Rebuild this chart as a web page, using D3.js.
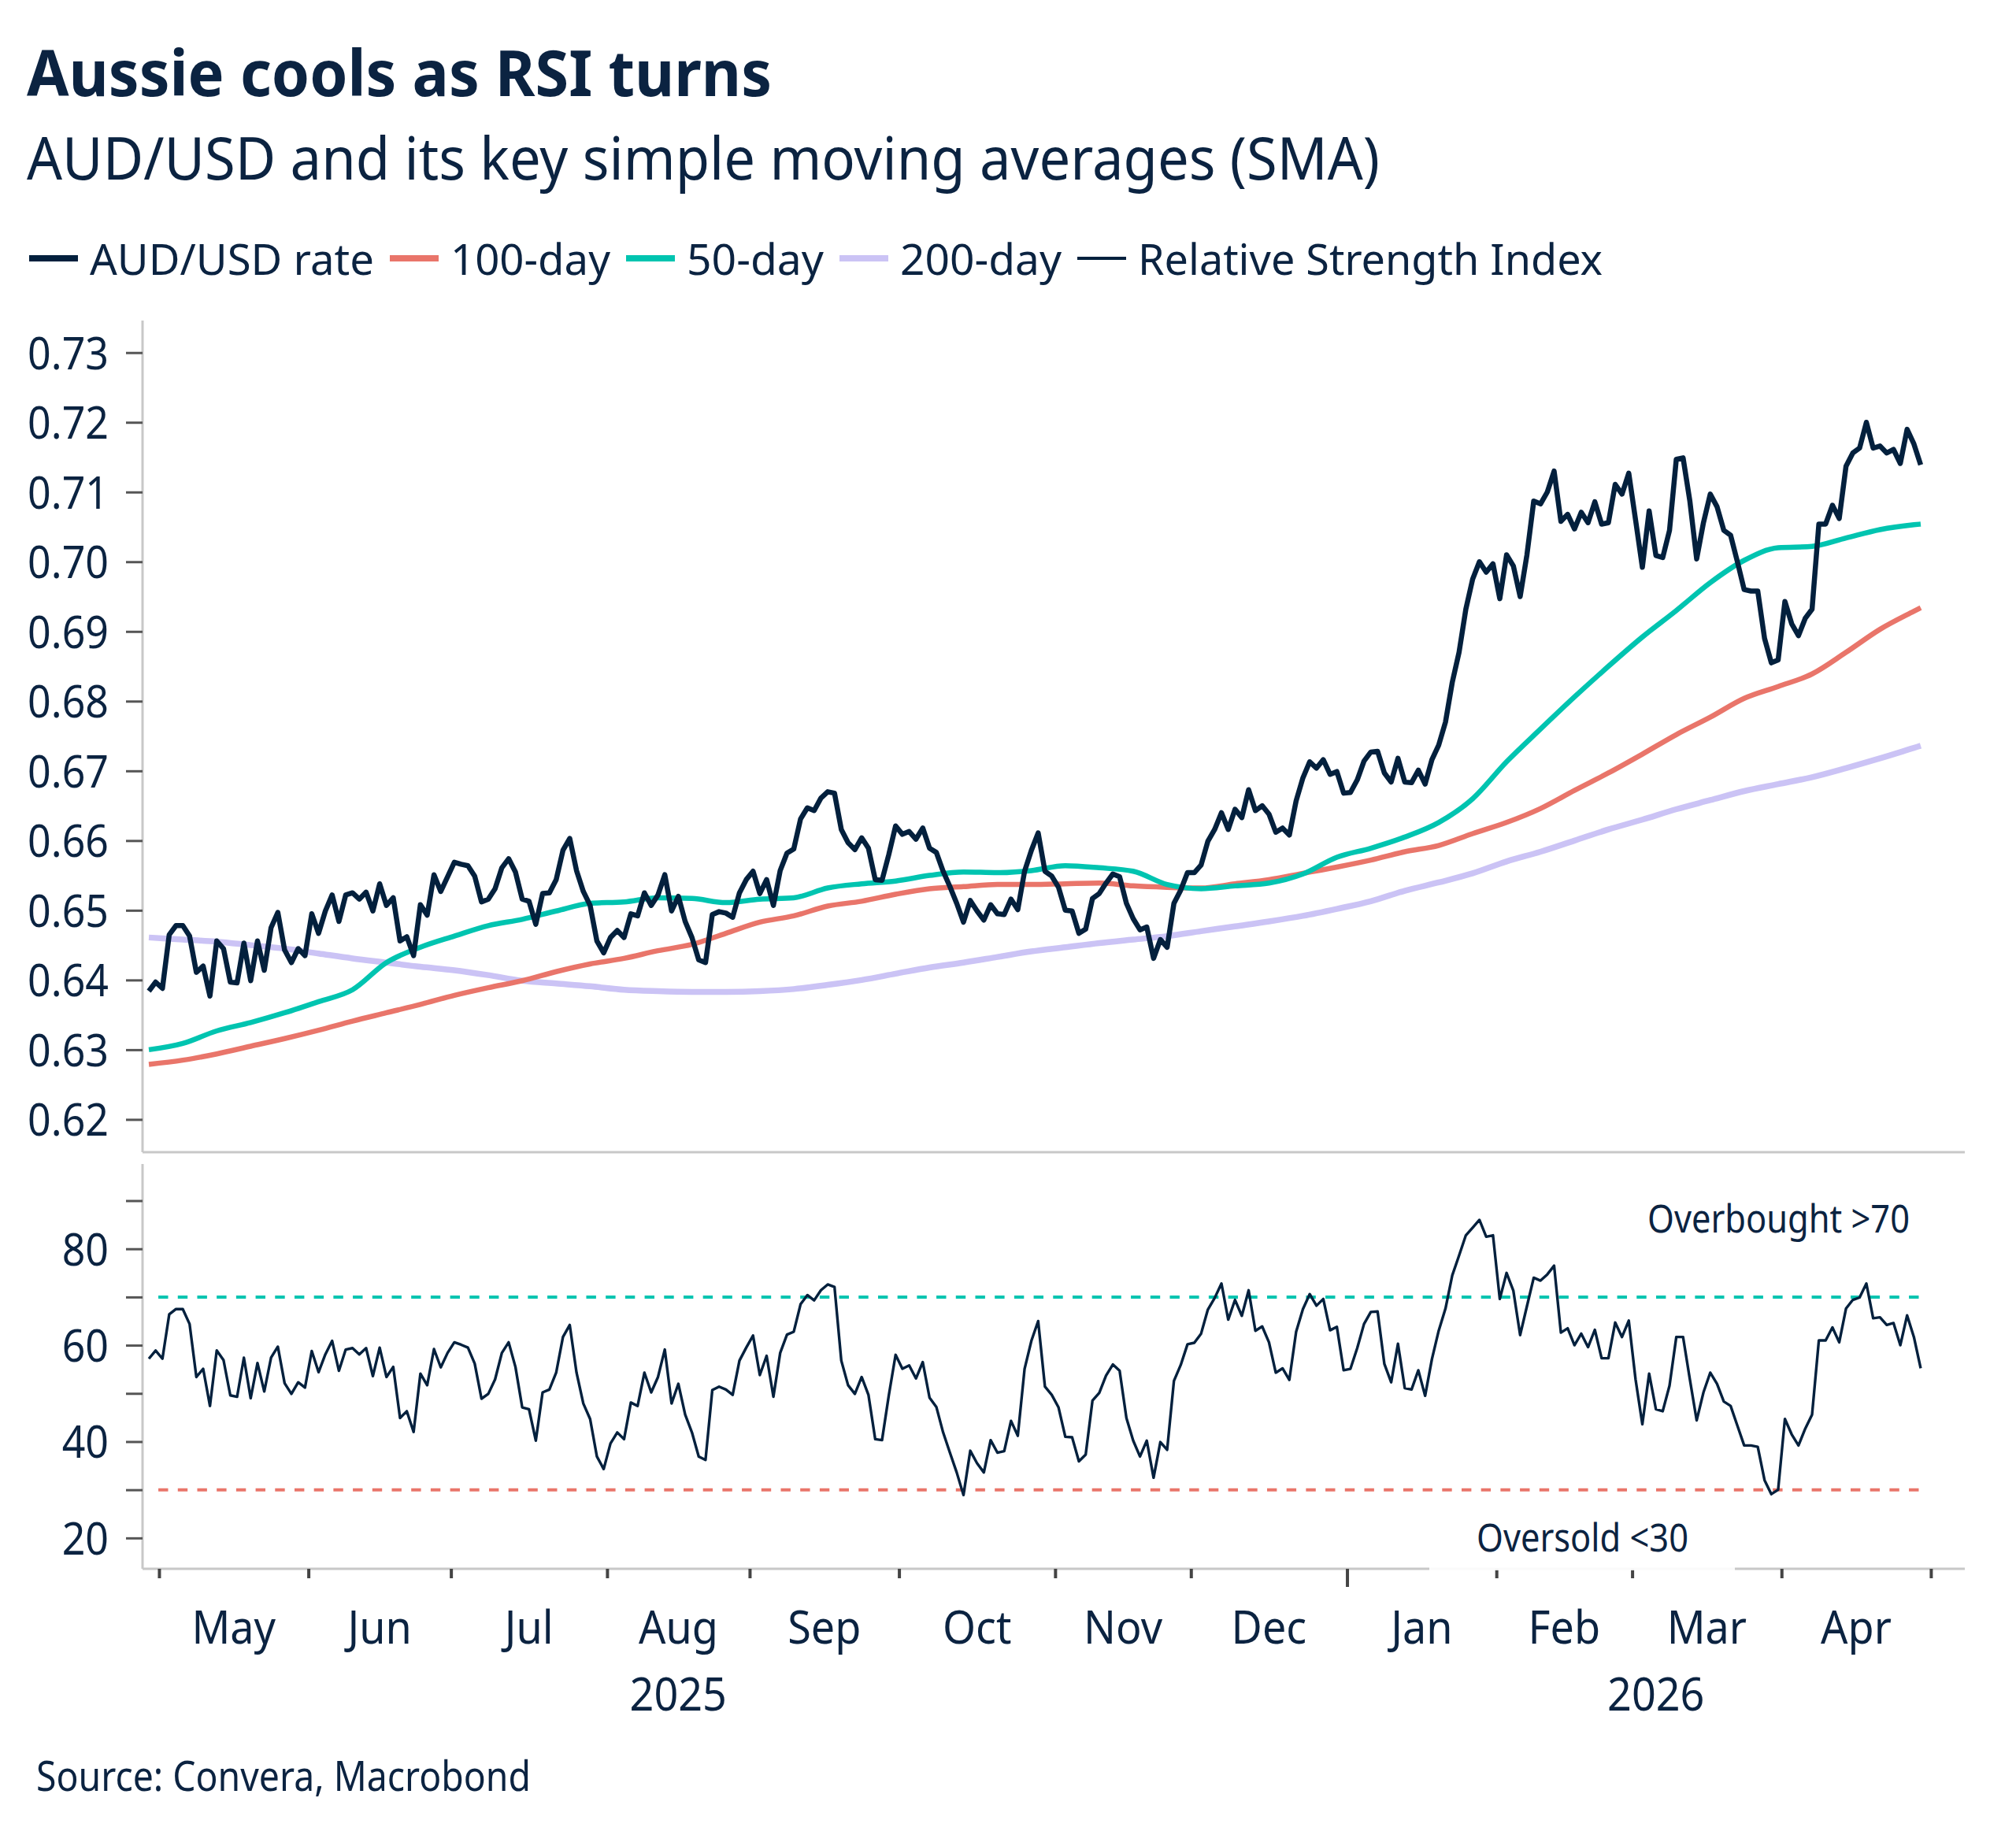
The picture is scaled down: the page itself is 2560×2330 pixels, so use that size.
<!DOCTYPE html>
<html>
<head>
<meta charset="utf-8">
<script src="https://cdn.jsdelivr.net/npm/d3@7"></script>
<style>
  html, body { margin: 0; padding: 0; background: #fff; }
  svg { display: block; font-family: "Noto Sans", "Open Sans", sans-serif; }
</style>
</head>
<body>
<div id="chart"></div>
<script>
// trading days run from the first to the last date below (weekdays only)
var firstDay = '2025-04-29';
var axisLastDay = '2026-05-08';

// AUD/USD daily close, one value per weekday from firstDay
var audUsd = [
  0.6384,0.6397,0.6388,0.6465,0.6478,0.6478,0.6463,0.6411,0.6420,0.6377,
  0.6456,0.6445,0.6397,0.6396,0.6453,0.6399,0.6456,0.6414,0.6475,0.6497,
  0.6443,0.6425,0.6445,0.6435,0.6495,0.6467,0.6499,0.6522,0.6484,0.6522,
  0.6525,0.6516,0.6526,0.6499,0.6538,0.6507,0.6518,0.6456,0.6462,0.6435,
  0.6508,0.6493,0.6551,0.6527,0.6548,0.6569,0.6566,0.6564,0.6549,0.6512,
  0.6516,0.6531,0.6561,0.6574,0.6555,0.6516,0.6513,0.6480,0.6524,0.6525,
  0.6544,0.6586,0.6603,0.6557,0.6527,0.6507,0.6456,0.6439,0.6461,0.6471,
  0.6461,0.6495,0.6492,0.6525,0.6507,0.6522,0.6551,0.6499,0.6520,0.6484,
  0.6461,0.6429,0.6425,0.6494,0.6498,0.6496,0.6490,0.6525,0.6544,0.6556,
  0.6524,0.6544,0.6507,0.6557,0.6582,0.6588,0.6631,0.6647,0.6643,0.6661,
  0.6670,0.6668,0.6616,0.6597,0.6587,0.6604,0.6589,0.6544,0.6543,0.6580,
  0.6621,0.6609,0.6613,0.6602,0.6618,0.6589,0.6583,0.6556,0.6534,0.6510,
  0.6483,0.6514,0.6499,0.6486,0.6508,0.6495,0.6494,0.6516,0.6501,0.6556,
  0.6586,0.6611,0.6556,0.6549,0.6533,0.6500,0.6499,0.6467,0.6473,0.6517,
  0.6524,0.6539,0.6552,0.6548,0.6510,0.6488,0.6472,0.6476,0.6431,0.6458,
  0.6447,0.6510,0.6529,0.6554,0.6554,0.6565,0.6599,0.6616,0.6640,0.6616,
  0.6645,0.6633,0.6673,0.6643,0.6650,0.6638,0.6612,0.6618,0.6608,0.6657,
  0.6690,0.6713,0.6704,0.6716,0.6695,0.6699,0.6668,0.6669,0.6687,0.6714,
  0.6727,0.6728,0.6697,0.6684,0.6718,0.6684,0.6683,0.6701,0.6681,0.6716,
  0.6737,0.6770,0.6827,0.6870,0.6932,0.6975,0.7000,0.6985,0.6997,0.6947,
  0.7010,0.6994,0.6950,0.7010,0.7087,0.7083,0.7100,0.7130,0.7058,0.7068,
  0.7047,0.7071,0.7056,0.7086,0.7054,0.7056,0.7111,0.7097,0.7127,0.7060,
  0.6992,0.7073,0.7009,0.7006,0.7045,0.7147,0.7149,0.7087,0.7004,0.7056,
  0.7097,0.7079,0.7045,0.7038,0.7000,0.6960,0.6958,0.6958,0.6890,0.6855,
  0.6859,0.6943,0.6911,0.6894,0.6919,0.6932,0.7054,0.7054,0.7081,0.7062,
  0.7137,0.7156,0.7163,0.7200,0.7163,0.7166,0.7156,0.7161,0.7141,0.7190,
  0.7169,0.7139
];

// 14-day RSI, same days as audUsd
var rsi = [
  57.2,58.9,57.2,66.4,67.5,67.5,64.4,53.4,55.1,47.4,
  58.9,56.9,49.6,49.3,57.4,49.0,56.3,50.4,57.4,59.7,
  52.1,49.9,52.3,51.2,58.8,54.4,58.1,60.9,54.7,59.1,
  59.4,58.1,59.4,53.6,59.5,53.4,55.5,44.9,46.3,42.0,
  54.1,51.7,59.2,55.4,58.4,60.6,60.1,59.5,56.2,48.9,
  49.9,52.9,58.4,60.6,55.5,47.1,46.7,40.2,50.2,50.8,
  54.3,61.7,64.2,54.3,47.9,44.7,36.9,34.3,39.6,41.9,
  40.5,48.1,47.4,54.3,50.2,53.4,59.1,47.9,52.0,45.6,
  41.9,36.9,36.2,50.7,51.4,50.8,49.7,56.8,59.5,62.0,
  53.8,57.8,49.3,58.4,62.2,62.8,68.5,70.4,69.3,71.4,
  72.6,72.1,56.8,51.7,49.9,53.4,49.7,40.5,40.3,49.6,
  58.0,55.1,55.8,53.1,56.5,49.1,47.2,41.9,37.7,33.6,
  28.9,38.1,35.5,33.6,40.3,37.7,38.0,44.3,41.2,55.1,
  60.9,65.0,51.4,49.7,47.1,41.0,40.9,35.9,37.3,48.5,
  50.1,53.7,56.0,54.7,44.9,40.2,36.9,40.2,32.5,39.9,
  38.3,52.6,55.9,60.2,60.5,62.4,67.4,69.8,72.8,65.3,
  69.4,66.1,71.4,63.0,63.9,60.6,54.3,55.2,52.8,62.8,
  67.5,70.6,68.2,69.6,63.1,63.8,54.8,55.1,59.4,64.4,
  66.9,67.0,56.1,52.3,60.3,51.1,50.8,54.8,49.5,57.1,
  63.0,67.6,74.5,78.6,82.8,84.4,86.0,82.5,82.8,69.6,
  75.0,71.3,62.1,68.1,74.0,73.4,74.7,76.5,62.6,63.5,
  60.0,62.4,59.6,63.2,57.3,57.3,64.7,61.7,65.1,52.9,
  43.6,54.1,46.7,46.3,51.6,61.7,61.7,52.9,44.4,50.2,
  54.3,52.0,48.3,47.4,43.3,39.2,39.2,38.9,32.0,29.1,
  30.0,44.7,41.5,39.2,42.7,45.6,61.0,61.0,63.7,60.6,
  67.6,69.4,69.9,72.8,65.6,65.8,64.2,64.6,60.0,66.2,
  61.7,55.2
];

// moving averages read every 5th trading day, plus the last day
var smaEvery = 5;
var sma50 = [
  0.6300,0.6309,0.6327,0.6339,0.6353,0.6369,0.6386,0.6425,0.6447,0.6463,
  0.6478,0.6487,0.6499,0.6510,0.6512,0.6518,0.6517,0.6511,0.6516,0.6518,
  0.6532,0.6538,0.6542,0.6550,0.6555,0.6554,0.6557,0.6564,0.6561,0.6556,
  0.6537,0.6531,0.6535,0.6539,0.6552,0.6576,0.6589,0.6605,0.6626,0.6660,
  0.6713,0.6760,0.6806,0.6850,0.6892,0.6930,0.6970,0.7002,0.7020,0.7022,
  0.7034,0.7046,0.7053,0.7054
];
var sma100 = [
  0.6279,0.6285,0.6294,0.6305,0.6316,0.6328,0.6341,0.6353,0.6365,0.6378,
  0.6389,0.6399,0.6412,0.6423,0.6431,0.6442,0.6451,0.6467,0.6483,0.6492,
  0.6506,0.6513,0.6523,0.6531,0.6534,0.6537,0.6537,0.6538,0.6539,0.6535,
  0.6533,0.6532,0.6538,0.6544,0.6553,0.6562,0.6572,0.6584,0.6593,0.6610,
  0.6626,0.6646,0.6672,0.6697,0.6724,0.6752,0.6777,0.6804,0.6821,0.6839,
  0.6870,0.6903,0.6929,0.6934
];
var sma200 = [
  0.6461,0.6458,0.6455,0.6450,0.6445,0.6438,0.6431,0.6425,0.6419,0.6414,
  0.6407,0.6399,0.6395,0.6391,0.6386,0.6384,0.6383,0.6383,0.6384,0.6387,
  0.6393,0.6400,0.6409,0.6418,0.6425,0.6433,0.6441,0.6447,0.6453,0.6458,
  0.6463,0.6470,0.6477,0.6484,0.6492,0.6502,0.6513,0.6528,0.6540,0.6553,
  0.6570,0.6584,0.6600,0.6616,0.6630,0.6645,0.6658,0.6671,0.6681,0.6691,
  0.6704,0.6718,0.6733,0.6736
];

var priceTicks = [0.62,0.63,0.64,0.65,0.66,0.67,0.68,0.69,0.70,0.71,0.72,0.73];
var rsiTicks = [20,30,40,50,60,70,80,90];
var rsiLabels = [20,40,60,80];
var overbought = 70, oversold = 30;

var legendItems = [
  {name: 'AUD/USD rate', color: '#03203d', width: 8, textW: 361},
  {name: '100-day', color: '#e9756a', width: 8, textW: 203},
  {name: '50-day', color: '#00c4b0', width: 8, textW: 174},
  {name: '200-day', color: '#cbc3f5', width: 8, textW: 205},
  {name: 'Relative Strength Index', color: '#03203d', width: 4, textW: 590}
];

var navy = '#0b2341';
var W = 2560, H = 2330;
var left = 181, right = 2495;
var top1 = 407, bot1 = 1463, top2 = 1478, bot2 = 1992;

var parse = d3.utcParse('%Y-%m-%d');
var days = d3.utcDays(parse(firstDay), d3.utcDay.offset(parse(axisLastDay), 1))
  .filter(function (d) { return d.getUTCDay() !== 0 && d.getUTCDay() !== 6; });

var smaIdx = sma50.map(function (v, i) { return Math.min(i * smaEvery, audUsd.length - 1); });

var x = d3.scaleLinear().domain([-0.93, days.length - 1 - 0.5]).range([left, right]);
var y1 = d3.scaleLinear().domain([0.6153, 0.7346]).range([bot1, top1]);
var y2 = d3.scaleLinear().domain([13.6, 97.6]).range([bot2, top2]);

var svg = d3.select('#chart').append('svg')
  .attr('width', W).attr('height', H)
  .attr('viewBox', '0 0 ' + W + ' ' + H);
svg.append('rect').attr('width', W).attr('height', H).attr('fill', '#fff');

function fit(sel, w) {
  sel.attr('textLength', w).attr('lengthAdjust', 'spacingAndGlyphs');
}
function condense(sel, k) {
  sel.each(function () {
    var w = this.getComputedTextLength();
    d3.select(this).attr('textLength', w * k).attr('lengthAdjust', 'spacingAndGlyphs');
  });
}

// titles
svg.append('text').attr('x', 34).attr('y', 122)
  .attr('font-size', 81).attr('font-weight', 700).attr('fill', navy)
  .text('Aussie cools as RSI turns').call(fit, 946);
svg.append('text').attr('x', 34).attr('y', 228)
  .attr('font-size', 74).attr('fill', navy)
  .text('AUD/USD and its key simple moving averages (SMA)').call(fit, 1718);

// legend
var lx = 37;
legendItems.forEach(function (d) {
  svg.append('line').attr('x1', lx).attr('x2', lx + 62).attr('y1', 328).attr('y2', 328)
    .attr('stroke', d.color).attr('stroke-width', d.width);
  svg.append('text').attr('x', lx + 77).attr('y', 349)
    .attr('font-size', 55).attr('fill', navy).text(d.name).call(fit, d.textW);
  lx = lx + 77 + d.textW + 20;
});

// price panel axis
var axis1 = svg.append('g').attr('transform', 'translate(' + left + ',0)')
  .call(d3.axisLeft(y1).tickValues(priceTicks).tickFormat(d3.format('.2f'))
    .tickSize(21).tickSizeOuter(0).tickPadding(22));
axis1.select('.domain').attr('stroke', '#c8c8c8').attr('stroke-width', 3)
  .attr('d', 'M0,' + top1 + 'V' + bot1);
axis1.selectAll('.tick line').attr('stroke', '#555').attr('stroke-width', 3);
axis1.selectAll('.tick text').attr('font-size', 57).attr('fill', navy)
  .attr('font-family', '"Noto Sans", sans-serif').attr('dy', '0.36em').call(condense, 0.91);
svg.append('line').attr('x1', left).attr('x2', right).attr('y1', bot1).attr('y2', bot1)
  .attr('stroke', '#c8c8c8').attr('stroke-width', 3);

// moving averages and rate
var smaLine = d3.line()
  .curve(d3.curveMonotoneX)
  .x(function (d, i) { return x(smaIdx[i]); })
  .y(function (d) { return y1(d); });
var dayLine = d3.line()
  .x(function (d, i) { return x(i); })
  .y(function (d) { return y1(d); });

[[sma200, '#cbc3f5', 7.5], [sma100, '#e9756a', 6.5], [sma50, '#00c4b0', 6.5]].forEach(function (s) {
  svg.append('path').datum(s[0]).attr('d', smaLine)
    .attr('fill', 'none').attr('stroke', s[1]).attr('stroke-width', s[2])
    .attr('stroke-linejoin', 'round');
});
svg.append('path').datum(audUsd).attr('d', dayLine)
  .attr('fill', 'none').attr('stroke', '#03203d').attr('stroke-width', 6.5)
  .attr('stroke-linejoin', 'round');

// RSI panel axis
var axis2 = svg.append('g').attr('transform', 'translate(' + left + ',0)')
  .call(d3.axisLeft(y2).tickValues(rsiTicks)
    .tickFormat(function (d) { return rsiLabels.indexOf(d) >= 0 ? d : ''; })
    .tickSize(21).tickSizeOuter(0).tickPadding(22));
axis2.select('.domain').attr('stroke', '#c8c8c8').attr('stroke-width', 3)
  .attr('d', 'M0,' + top2 + 'V' + bot2);
axis2.selectAll('.tick line').attr('stroke', '#555').attr('stroke-width', 3);
axis2.selectAll('.tick text').attr('font-size', 57).attr('fill', navy)
  .attr('font-family', '"Noto Sans", sans-serif').attr('dy', '0.36em')
  .filter(function (d) { return rsiLabels.indexOf(d) >= 0; }).call(condense, 0.91);

// month boundaries
var bounds = [];
for (var i = 1; i < days.length; i++) {
  if (days[i].getUTCMonth() !== days[i - 1].getUTCMonth()) bounds.push(i - 0.5);
}
var axis3 = svg.append('g').attr('transform', 'translate(0,' + bot2 + ')')
  .call(d3.axisBottom(x).tickValues(bounds).tickFormat('').tickSize(12).tickSizeOuter(0));
axis3.select('.domain').attr('stroke', '#c8c8c8').attr('stroke-width', 3)
  .attr('d', 'M' + left + ',0H' + right);
axis3.selectAll('.tick line').attr('stroke', '#444').attr('stroke-width', 4)
  .attr('y2', function (d) { return days[Math.ceil(d)].getUTCMonth() === 0 ? 23 : 12; });

// overbought / oversold guides
var guideFrom = 1.4, guideTo = audUsd.length - 1;
[[overbought, '#00c4b0'], [oversold, '#e9756a']].forEach(function (g) {
  svg.append('line').attr('x1', x(guideFrom)).attr('x2', x(guideTo))
    .attr('y1', y2(g[0])).attr('y2', y2(g[0]))
    .attr('stroke', g[1]).attr('stroke-width', 4).attr('stroke-dasharray', '12.4,12.3');
});

svg.append('path').datum(rsi)
  .attr('d', d3.line().x(function (d, i) { return x(i); }).y(function (d) { return y2(d); }))
  .attr('fill', 'none').attr('stroke', '#03203d').attr('stroke-width', 3.4)
  .attr('stroke-linejoin', 'round');

// annotations
svg.append('text').attr('x', 2092).attr('y', 1565).attr('font-size', 49).attr('fill', navy)
  .text('Overbought >70').call(fit, 333);
svg.append('rect').attr('x', 1815).attr('y', 1912).attr('width', 388).attr('height', 82)
  .attr('fill', '#fff').attr('opacity', 0.9);
svg.append('text').attr('x', 1875).attr('y', 1970).attr('font-size', 49).attr('fill', navy)
  .text('Oversold <30').call(fit, 269);

// month and year labels
var monthFmt = d3.utcFormat('%b');
for (var j = 0; j < bounds.length - 1; j++) {
  svg.append('text')
    .attr('x', x((bounds[j] + bounds[j + 1]) / 2)).attr('y', 2087)
    .attr('text-anchor', 'middle').attr('font-size', 58).attr('fill', navy)
    .text(monthFmt(days[Math.ceil(bounds[j])])).call(condense, 0.93);
}
var janBound = bounds.filter(function (b) { return days[Math.ceil(b)].getUTCMonth() === 0; })[0];
svg.append('text').attr('x', (12 + x(janBound)) / 2).attr('y', 2172)
  .attr('text-anchor', 'middle').attr('font-size', 58).attr('fill', navy)
  .text('2025').call(condense, 0.93);
svg.append('text').attr('x', (x(janBound) + right) / 2).attr('y', 2172)
  .attr('text-anchor', 'middle').attr('font-size', 58).attr('fill', navy)
  .text('2026').call(condense, 0.93);

svg.append('text').attr('x', 46).attr('y', 2274).attr('font-size', 52).attr('fill', navy)
  .text('Source: Convera, Macrobond').call(fit, 628);
</script>
</body>
</html>
